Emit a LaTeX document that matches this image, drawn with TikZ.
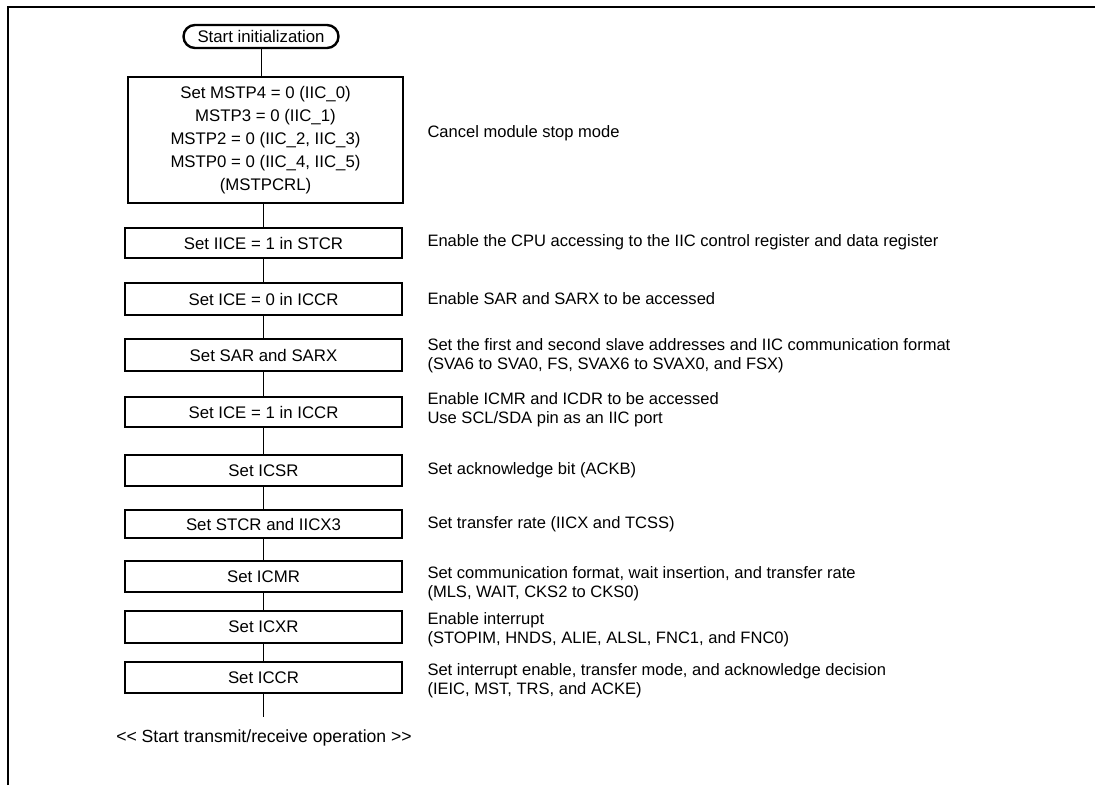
\documentclass[tikz,border=0pt]{standalone}
\usepackage{fontspec}
\setmainfont{Liberation Sans}

\tikzset{every picture/.style={line width=0.75pt}}
\tikzset{
  stepbox/.style={draw, line width=1.8pt, inner sep=0pt, align=center,
    minimum width=207.75pt, minimum height=22.5pt},
  termbox/.style={draw, line width=1.8pt, inner sep=0pt, rounded corners=8.6pt,
    minimum width=116.25pt, minimum height=17.25pt},
  desc/.style={anchor=west, inner sep=0pt, align=left,
    font=\fontsize{12.4}{14.5}\selectfont},
  link/.style={line width=0.75pt}
}

\begin{document}
\begin{tikzpicture}[x=0.75pt,y=0.75pt,yscale=-1,xscale=1,
  font=\fontsize{12.6}{16}\selectfont]
\useasboundingbox (0,0) rectangle (1095,785);

%Frame
\draw [line width=1.5pt] (8,785) -- (8,7) -- (1095,7) ;

%Shape: Terminal
\node [termbox] (start) at (261,36.5) {Start initialization};

%Shape: Rectangle
\node [stepbox, minimum width=206.25pt, minimum height=94.5pt,
  font=\fontsize{12.6}{17.25}\selectfont] (mstp) at (265.5,140)
  {Set MSTP4 = 0 (IIC\_0)\\MSTP3 = 0 (IIC\_1)\\MSTP2 = 0 (IIC\_2, IIC\_3)\\MSTP0 = 0 (IIC\_4, IIC\_5)\\(MSTPCRL)};
\node [stepbox] (iice) at (263.5,243) {Set IICE = 1 in STCR};
\node [stepbox, minimum height=24pt] (iceoff) at (263.5,299) {Set ICE = 0 in ICCR};
\node [stepbox, minimum height=24pt] (sarx) at (263.5,355) {Set SAR and SARX};
\node [stepbox] (iceon) at (263.5,412) {Set ICE = 1 in ICCR};
\node [stepbox, minimum height=23.25pt] (icsr) at (263.5,470.5) {Set ICSR};
\node [stepbox, minimum height=21pt] (stcr) at (263.5,524) {Set STCR and IICX3};
\node [stepbox, minimum height=23.25pt] (icmr) at (263.5,576.5) {Set ICMR};
\node [stepbox, minimum height=24pt] (icxr) at (263.5,627) {Set ICXR};
\node [stepbox, minimum height=23.25pt] (iccr) at (263.5,677.5) {Set ICCR};
\coordinate (tail) at (263.5,717);

%Straight Lines
\draw [link] (start.south) -- (start.south |- mstp.north) ;
\draw [link] (mstp.south -| iice.north) -- (iice.north) ;
\draw [link] (iice) -- (iceoff) ;
\draw [link] (iceoff) -- (sarx) ;
\draw [link] (sarx) -- (iceon) ;
\draw [link] (iceon) -- (icsr) ;
\draw [link] (icsr) -- (stcr) ;
\draw [link] (stcr) -- (icmr) ;
\draw [link] (icmr) -- (icxr) ;
\draw [link] (icxr) -- (iccr) ;
\draw [link] (iccr.south) -- (tail) ;

% Text Node
\node [font=\fontsize{13.2}{16}\selectfont] (done) at (264,738) {<\kern0pt< Start transmit/receive operation >\kern0pt>};

% Text Node
\node [desc] (dmstp) at (427,133) {Cancel module stop mode};
\node [desc] (diice) at (427,242) {Enable the CPU accessing to the IIC control register and data register};
\node [desc] (diceoff) at (427,299) {Enable SAR and SARX to be accessed};
\node [desc] (dsarx) at (427,356) {Set the first and second slave addresses and IIC communication format\\(SVA6 to SVA0, FS, SVAX6 to SVAX0, and FSX)};
\node [desc] (diceon) at (427,410) {Enable ICMR and ICDR to be accessed\\Use SCL/SDA pin as an IIC port};
\node [desc] (dicsr) at (427,470) {Set acknowledge bit (ACKB)};
\node [desc] (dstcr) at (427,524) {Set transfer rate (IICX and TCSS)};
\node [desc] (dicmr) at (427,584) {Set communication format, wait insertion, and transfer rate\\(MLS, WAIT, CKS2 to CKS0)};
\node [desc] (dicxr) at (427,630) {Enable interrupt\\(STOPIM, HNDS, ALIE, ALSL, FNC1, and FNC0)};
\node [desc] (diccr) at (427,681) {Set interrupt enable, transfer mode, and acknowledge decision\\(IEIC, MST, TRS, and ACKE)};

\end{tikzpicture}
\end{document}
